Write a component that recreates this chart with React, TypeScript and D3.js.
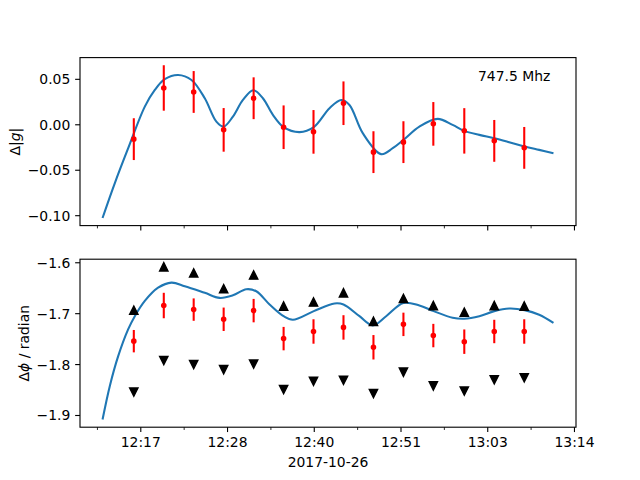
import * as d3 from 'd3';

// time axis, minutes after 12:00
const TIME_TICKS = [17.14, 28.57, 40.0, 51.43, 62.86, 74.29];
const TIME_LABELS = ['12:17', '12:28', '12:40', '12:51', '13:03', '13:14'];
const DATE_LABEL = '2017-10-26';
const FREQ_LABEL = '747.5 Mhz';

const OBS_T = [16.22, 20.17, 24.11, 28.06, 32.01, 35.96, 39.9, 43.85, 47.8, 51.75, 55.69, 59.77, 63.72, 67.67];

const GAIN = [-0.0158, 0.0405, 0.0361, -0.0056, 0.0292, -0.0027, -0.0078, 0.0237, -0.0301, -0.0191, 0.001, -0.0067, -0.0177, -0.0254];
const GAIN_ERR = [0.023, 0.025, 0.023, 0.024, 0.023, 0.024, 0.024, 0.024, 0.023, 0.023, 0.024, 0.025, 0.023, 0.023];

const PHASE = [-1.754, -1.684, -1.692, -1.711, -1.694, -1.749, -1.735, -1.727, -1.766, -1.721, -1.743, -1.755, -1.735, -1.735];
const PHASE_ERR = [0.022, 0.025, 0.022, 0.023, 0.023, 0.023, 0.024, 0.024, 0.024, 0.023, 0.023, 0.024, 0.023, 0.024];
const PHASE_UP = [-1.693, -1.608, -1.62, -1.651, -1.624, -1.685, -1.677, -1.659, -1.715, -1.67, -1.684, -1.697, -1.684, -1.685];
const PHASE_DOWN = [-1.854, -1.792, -1.8, -1.81, -1.799, -1.849, -1.833, -1.831, -1.857, -1.815, -1.842, -1.852, -1.83, -1.826];

// fitted curves
const GAIN_FIT_T = [12.1, 13.72, 15.47, 17.67, 18.99, 20.3, 22.05, 23.82, 25.57, 27.1, 28.06, 29.28, 30.6, 31.97, 33.23, 34.55, 35.96, 38.06, 39.94, 42.01, 43.55, 44.64, 46.39, 48.81, 50.34, 51.75, 53.85, 56.26, 58.23, 59.77, 61.75, 63.72, 65.69, 67.71, 69.64, 71.52];
const GAIN_FIT = [-0.1025, -0.0641, -0.026, 0.02, 0.0383, 0.0501, 0.0548, 0.0493, 0.0292, 0.0035, -0.002, 0.009, 0.0273, 0.038, 0.0292, 0.0109, -0.0026, -0.0081, -0.0026, 0.0182, 0.0273, 0.0218, -0.0092, -0.0323, -0.0257, -0.0166, -0.002, 0.0065, -0.0001, -0.0067, -0.0111, -0.0147, -0.0191, -0.0239, -0.0276, -0.0312];

const PHASE_FIT_T = [12.1, 13.06, 14.15, 15.47, 16.35, 17.67, 19.42, 21.18, 22.93, 25.57, 27.53, 29.28, 31.05, 32.36, 34.11, 35.96, 37.18, 39.94, 42.67, 43.85, 45.96, 47.71, 49.47, 51.75, 53.85, 55.73, 58.23, 59.77, 61.75, 63.72, 65.69, 67.71, 69.64, 71.52];
const PHASE_FIT = [-1.908, -1.842, -1.784, -1.731, -1.705, -1.675, -1.649, -1.639, -1.646, -1.659, -1.669, -1.664, -1.652, -1.656, -1.682, -1.705, -1.712, -1.695, -1.68, -1.682, -1.705, -1.723, -1.705, -1.679, -1.684, -1.695, -1.708, -1.71, -1.705, -1.695, -1.69, -1.693, -1.702, -1.718];

const GAIN_TICKS = [0.05, 0, -0.05, -0.1];
const PHASE_TICKS = [-1.6, -1.7, -1.8, -1.9];

const W = 640;
const H = 480;
const LEFT = 80;
const RIGHT = 576;
const FONT = 'DejaVu Sans';
const BLUE = '#1f77b4';
const LW = 2.08;

const pad = (lo: number, hi: number): [number, number] => {
  const m = (hi - lo) * 0.05;
  return [lo - m, hi + m];
};
const minus = (s: string) => s.replace('-', '\u2212');

const x = d3.scaleLinear().domain(pad(d3.min(GAIN_FIT_T)!, d3.max(GAIN_FIT_T)!)).range([LEFT, RIGHT]);
const minorTicks = TIME_TICKS.map((t) => t - (TIME_TICKS[1] - TIME_TICKS[0]) / 2);

function Frame({ top, bottom, y, yTicks, fmt }: any) {
  return (
    <g>
      {TIME_TICKS.map((t, i) => (
        <line key={'M' + i} x1={x(t)} x2={x(t)} y1={bottom} y2={bottom + 4.86} stroke="#000" strokeWidth={1.11} />
      ))}
      {minorTicks.map((t, i) => (
        <line key={'m' + i} x1={x(t)} x2={x(t)} y1={bottom} y2={bottom + 2.78} stroke="#000" strokeWidth={0.83} />
      ))}
      {yTicks.map((v: number, i: number) => (
        <g key={'y' + i}>
          <line x1={LEFT - 4.86} x2={LEFT} y1={y(v)} y2={y(v)} stroke="#000" strokeWidth={1.11} />
          <text x={LEFT - 9.7} y={y(v)} dy="0.36em" textAnchor="end" fontSize={13.9} fontFamily={FONT}>
            {minus(fmt(v))}
          </text>
        </g>
      ))}
      <rect x={LEFT} y={top} width={RIGHT - LEFT} height={bottom - top} fill="none" stroke="#000" strokeWidth={1.11} />
    </g>
  );
}

const upTri = (h: number) => `M0,${-h}L${-h},${h}L${h},${h}Z`;
const downTri = (h: number) => `M0,${h}L${-h},${-h}L${h},${-h}Z`;

export default function App() {
  // top panel: gain
  const gTop = 57.6;
  const gBot = 225.6;
  const gExt = [
    Math.min(d3.min(GAIN_FIT)!, d3.min(GAIN.map((v, i) => v - GAIN_ERR[i]))!),
    Math.max(d3.max(GAIN_FIT)!, d3.max(GAIN.map((v, i) => v + GAIN_ERR[i]))!),
  ];
  const yG = d3.scaleLinear().domain(pad(gExt[0], gExt[1])).range([gBot, gTop]);

  // bottom panel: phase
  const pTop = 259.2;
  const pBot = 427.2;
  const pExt = [
    Math.min(d3.min(PHASE_FIT)!, d3.min(PHASE_DOWN)!, d3.min(PHASE.map((v, i) => v - PHASE_ERR[i]))!),
    Math.max(d3.max(PHASE_FIT)!, d3.max(PHASE_UP)!, d3.max(PHASE.map((v, i) => v + PHASE_ERR[i]))!),
  ];
  const yP = d3.scaleLinear().domain(pad(pExt[0], pExt[1])).range([pBot, pTop]);

  const gainLine = d3
    .line<number>()
    .x((_, i) => x(GAIN_FIT_T[i]))
    .y((d) => yG(d))
    .curve(d3.curveCatmullRom.alpha(0.5));
  const phaseLine = d3
    .line<number>()
    .x((_, i) => x(PHASE_FIT_T[i]))
    .y((d) => yP(d))
    .curve(d3.curveCatmullRom.alpha(0.5));

  return (
    <svg width={W} height={H} style={{ position: 'absolute', left: 0, top: 0, background: '#fff' }}>
      <rect width={W} height={H} fill="#fff" />

      {/* gain panel */}
      <path d={gainLine(GAIN_FIT)!} fill="none" stroke={BLUE} strokeWidth={LW} />
      {GAIN.map((v, i) => (
        <g key={'g' + i}>
          <line x1={x(OBS_T[i])} x2={x(OBS_T[i])} y1={yG(v - GAIN_ERR[i])} y2={yG(v + GAIN_ERR[i])} stroke="#ff0000" strokeWidth={LW} />
          <circle cx={x(OBS_T[i])} cy={yG(v)} r={2.1} fill="#ff0000" stroke="#ff0000" strokeWidth={1.39} />
        </g>
      ))}
      <Frame top={gTop} bottom={gBot} y={yG} yTicks={GAIN_TICKS} fmt={d3.format('.2f')} />
      <text x={478} y={81} fontSize={13.9} fontFamily={FONT}>{FREQ_LABEL}</text>
      <text transform={`translate(15,${(gTop + gBot) / 2}) rotate(-90)`} textAnchor="middle" dy="0.36em" fontSize={13.9} fontFamily={FONT}>
        Δ|<tspan fontStyle="italic">g</tspan>|
      </text>

      {/* phase panel */}
      <path d={phaseLine(PHASE_FIT)!} fill="none" stroke={BLUE} strokeWidth={LW} />
      {PHASE.map((v, i) => (
        <g key={'p' + i}>
          <line x1={x(OBS_T[i])} x2={x(OBS_T[i])} y1={yP(v - PHASE_ERR[i])} y2={yP(v + PHASE_ERR[i])} stroke="#ff0000" strokeWidth={LW} />
          <circle cx={x(OBS_T[i])} cy={yP(v)} r={2.1} fill="#ff0000" stroke="#ff0000" strokeWidth={1.39} />
        </g>
      ))}
      {PHASE_UP.map((v, i) => (
        <path key={'u' + i} d={upTri(4.17)} transform={`translate(${x(OBS_T[i])},${yP(v)})`} fill="#000" stroke="#000" strokeWidth={1.39} />
      ))}
      {PHASE_DOWN.map((v, i) => (
        <path key={'d' + i} d={downTri(4.17)} transform={`translate(${x(OBS_T[i])},${yP(v)})`} fill="#000" stroke="#000" strokeWidth={1.39} />
      ))}
      <Frame top={pTop} bottom={pBot} y={yP} yTicks={PHASE_TICKS} fmt={d3.format('.1f')} />
      {TIME_TICKS.map((t, i) => (
        <text key={'xt' + i} x={x(t)} y={pBot + 9.7} dy="0.76em" textAnchor="middle" fontSize={13.9} fontFamily={FONT}>
          {TIME_LABELS[i]}
        </text>
      ))}
      <text x={(LEFT + RIGHT) / 2} y={467} textAnchor="middle" fontSize={13.9} fontFamily={FONT}>{DATE_LABEL}</text>
      <text transform={`translate(24,${(pTop + pBot) / 2}) rotate(-90)`} textAnchor="middle" dy="0.36em" fontSize={13.9} fontFamily={FONT}>
        Δ<tspan fontStyle="italic">ϕ</tspan> / radian
      </text>
    </svg>
  );
}
